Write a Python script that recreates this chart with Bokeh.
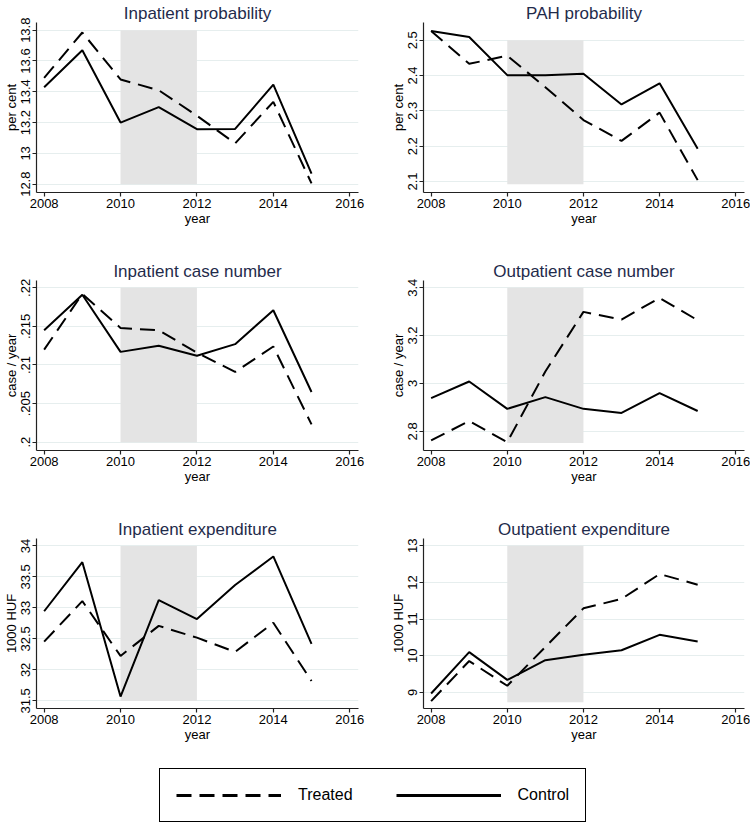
from bokeh.plotting import figure
from bokeh.layouts import column, row
from bokeh.models import FixedTicker, Range1d, Legend, LegendItem
from bokeh.embed import file_html
from bokeh.resources import INLINE

# ---------------- data ----------------
years = [2008, 2009, 2010, 2011, 2012, 2013, 2014, 2015]
x_ticks = [2008, 2010, 2012, 2014, 2016]
reform_start = [2010]
reform_end = [2012]

series_names = ["Treated", "Control"]

titles = ["Inpatient probability", "PAH probability",
          "Inpatient case number", "Outpatient case number",
          "Inpatient expenditure", "Outpatient expenditure"]
y_labels = ["per cent", "per cent", "case / year", "case / year",
            "1000 HUF", "1000 HUF"]

inp_prob_treated = [13.49, 13.785, 13.48, 13.41, 13.245, 13.065, 13.335, 12.805]
inp_prob_control = [13.43, 13.67, 13.20, 13.30, 13.157, 13.159, 13.447, 12.869]

pah_prob_treated = [2.526, 2.433, 2.456, 2.367, 2.274, 2.215, 2.295, 2.104]
pah_prob_control = [2.526, 2.509, 2.401, 2.401, 2.405, 2.318, 2.378, 2.193]

inp_case_treated = [0.2120, 0.2192, 0.2148, 0.2145, 0.2116, 0.2091, 0.2124, 0.2023]
inp_case_control = [0.2145, 0.2191, 0.2117, 0.2125, 0.2112, 0.2127, 0.2171, 0.2065]

out_case_treated = [2.762, 2.843, 2.755, 3.05, 3.299, 3.267, 3.357, 3.264]
out_case_control = [2.939, 3.008, 2.894, 2.943, 2.894, 2.877, 2.960, 2.885]

inp_exp_treated = [32.456, 33.11, 32.225, 32.71, 32.52, 32.29, 32.76, 31.82]
inp_exp_control = [32.946, 33.738, 31.57, 33.124, 32.82, 33.37, 33.83, 32.42]

out_exp_treated = [8.76, 9.855, 9.18, 10.24, 11.294, 11.55, 12.23, 11.94]
out_exp_control = [8.97, 10.10, 9.34, 9.88, 10.03, 10.15, 10.57, 10.39]

y_ticks = [
    [12.8, 13, 13.2, 13.4, 13.6, 13.8],
    [2.1, 2.2, 2.3, 2.4, 2.5],
    [0.2, 0.205, 0.21, 0.215, 0.22],
    [2.8, 3, 3.2, 3.4],
    [31.5, 32, 32.5, 33, 33.5, 34],
    [9, 10, 11, 12, 13],
]
y_tick_labels = [
    ["12.8", "13", "13.2", "13.4", "13.6", "13.8"],
    ["2.1", "2.2", "2.3", "2.4", "2.5"],
    [".2", ".205", ".21", ".215", ".22"],
    ["2.8", "3", "3.2", "3.4"],
    ["31.5", "32", "32.5", "33", "33.5", "34"],
    ["9", "10", "11", "12", "13"],
]
# shaded reform period vertical extent (data units)
shade_low = [12.8, 2.092, 0.2, 2.751, 31.5, 8.73]
shade_high = [13.8, 2.5, 0.22, 3.4, 34, 13]

# axis ranges
y_min = [12.746, 2.069, 0.19892, 2.72, 31.377, 8.56]
y_max = [13.85, 2.55, 0.22095, 3.43, 34.12, 13.2]
x_min, x_max = 2007.8, 2016.23

treated = [inp_prob_treated, pah_prob_treated, inp_case_treated,
           out_case_treated, inp_exp_treated, out_exp_treated]
control = [inp_prob_control, pah_prob_control, inp_case_control,
           out_case_control, inp_exp_control, out_exp_control]

# ---------------- style ----------------
FONT = "Liberation Sans"
TITLE_COLOR = "#1f2b4b"
AXIS_COLOR = "#222222"
GRID_COLOR = "#e6eeee"
SHADE_COLOR = "#e4e4e4"
DASH = "15 8"


def make_panel(i):
    left_col = (i % 2 == 0)
    last_row = (i >= 4)
    w = 387 if left_col else 363
    h = 244 if last_row else 258
    p = figure(width=w, height=h, output_backend="svg", toolbar_location=None,
               x_range=Range1d(x_min, x_max), y_range=Range1d(y_min[i], y_max[i]),
               min_border_left=36, min_border_right=(29 if left_col else 6),
               min_border_top=22, min_border_bottom=h - 22 - 170,
               background_fill_color="white", border_fill_color="white")
    p.outline_line_color = None
    p.title.text = titles[i]
    p.title.align = "center"
    p.title.text_font = FONT
    p.title.text_font_size = "17px"
    p.title.text_font_style = "normal"
    p.title.text_color = TITLE_COLOR
    p.title.standoff = 0

    p.quad(left=reform_start, right=reform_end, bottom=[shade_low[i]],
           top=[shade_high[i]], fill_color=SHADE_COLOR, line_color=None)
    p.line(years, treated[i], line_color="black", line_width=2, line_dash=DASH)
    p.line(years, control[i], line_color="black", line_width=2)

    p.xaxis.ticker = FixedTicker(ticks=x_ticks)
    p.xaxis.axis_label = "year"
    p.yaxis.ticker = FixedTicker(ticks=y_ticks[i])
    p.yaxis.major_label_overrides = dict(zip(y_ticks[i], y_tick_labels[i]))
    p.yaxis.axis_label = y_labels[i]
    p.yaxis.major_label_orientation = "vertical"

    for ax in (p.xaxis, p.yaxis):
        ax.axis_line_color = AXIS_COLOR
        ax.axis_line_width = 1.2
        ax.major_tick_line_color = AXIS_COLOR
        ax.major_tick_line_width = 1.2
        ax.major_tick_in = 0
        ax.major_tick_out = 4
        ax.minor_tick_line_color = None
        ax.major_label_text_font = FONT
        ax.major_label_text_font_size = "13px"
        ax.major_label_text_color = "black"
        ax.major_label_standoff = 2
        ax.axis_label_text_font = FONT
        ax.axis_label_text_font_size = "13px"
        ax.axis_label_text_font_style = "normal"
        ax.axis_label_text_color = "black"
        ax.axis_label_standoff = 0

    p.xgrid.visible = False
    p.ygrid.ticker = FixedTicker(ticks=y_ticks[i])
    p.ygrid.grid_line_color = GRID_COLOR
    p.ygrid.grid_line_width = 1
    return p


panels = [make_panel(i) for i in range(6)]

# ---------------- legend ----------------
lg = figure(width=750, height=63, output_backend="svg", toolbar_location=None,
            x_range=Range1d(0, 1), y_range=Range1d(0, 1), min_border=0)
lg.outline_line_color = None
lg.axis.visible = False
lg.grid.visible = False
# sample renderers (their data lie outside this strip's ranges; only the legend shows)
r_t = lg.line(years, treated[0], line_color="black", line_width=3, line_dash=DASH)
r_c = lg.line(years, control[0], line_color="black", line_width=3)
legend = Legend(items=[LegendItem(label=series_names[0], renderers=[r_t]),
                       LegendItem(label=series_names[1], renderers=[r_c])],
                orientation="horizontal", location=(159, 1),
                glyph_width=105, glyph_height=20, label_standoff=17, spacing=43,
                padding=16, margin=0,
                label_text_font=FONT, label_text_font_size="16px",
                label_text_color="black",
                border_line_color="black", border_line_width=1.5,
                border_line_alpha=1,
                background_fill_color="white", background_fill_alpha=1)
lg.add_layout(legend, "center")

layout = column(row(panels[0], panels[1]), row(panels[2], panels[3]),
                row(panels[4], panels[5]), lg)

with open("out.html", "w") as f:
    f.write(file_html(layout, INLINE))
